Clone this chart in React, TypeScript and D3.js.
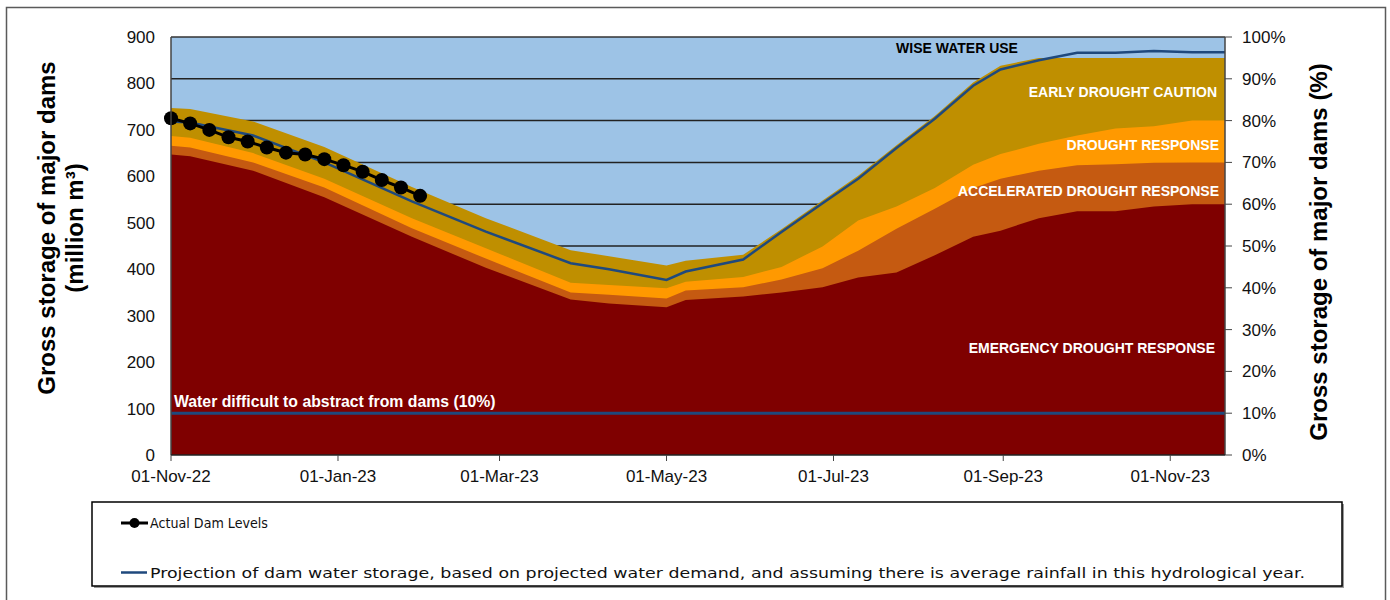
import React from 'react';
import * as d3 from 'd3';

// ---- data ----
const dates = [
  '2022-11-01', '2022-11-08', '2022-12-01', '2022-12-27', '2023-01-28', '2023-02-24',
  '2023-03-27', '2023-04-10', '2023-05-01', '2023-05-08', '2023-05-29', '2023-06-12',
  '2023-06-27', '2023-07-10', '2023-07-24', '2023-08-07', '2023-08-21', '2023-08-31',
  '2023-09-14', '2023-09-28', '2023-10-12', '2023-10-26', '2023-11-09', '2023-11-21',
];
const emergencyTop = [647, 643, 612, 555, 470, 403, 335, 326, 318, 334, 341, 350, 361, 382, 393, 430, 470, 483, 510, 525, 525, 535, 540, 540];
const acceleratedTop = [666, 662, 630, 576, 488, 423, 350, 345, 337, 354, 361, 378, 402, 440, 487, 530, 575, 595, 612, 624, 626, 629, 630, 630];
const droughtResponseTop = [687, 683, 650, 595, 510, 445, 371, 366, 359, 373, 383, 405, 449, 505, 535, 575, 625, 648, 670, 688, 703, 708, 720, 720];
const earlyCautionTop = [747, 745, 718, 663, 577, 510, 441, 428, 408, 418, 431, 486, 548, 601, 667, 730, 802, 838, 855, 855, 855, 855, 855, 855];
const projection = [718, 716, 688, 630, 546, 481, 413, 400, 377, 395, 421, 480, 542, 595, 661, 724, 795, 830, 850, 866, 866, 870, 867, 867];

const actualDates = [
  '2022-11-01', '2022-11-08', '2022-11-15', '2022-11-22', '2022-11-29', '2022-12-06', '2022-12-13',
  '2022-12-20', '2022-12-27', '2023-01-03', '2023-01-10', '2023-01-17', '2023-01-24', '2023-01-31',
];
const actualLevels = [725, 714, 700, 684, 675, 662, 651, 647, 637, 624, 610, 592, 576, 558];

const leftTicks = [0, 100, 200, 300, 400, 500, 600, 700, 800, 900];
const rightTicks = [0, 10, 20, 30, 40, 50, 60, 70, 80, 90, 100];
const xTickDates = ['2022-11-01', '2023-01-01', '2023-03-01', '2023-05-01', '2023-07-01', '2023-09-01', '2023-11-01'];
const xTickLabels = ['01-Nov-22', '01-Jan-23', '01-Mar-23', '01-May-23', '01-Jul-23', '01-Sep-23', '01-Nov-23'];
const abstractLimitPct = 10;

const bandNames = ['WISE WATER USE', 'EARLY DROUGHT CAUTION', 'DROUGHT RESPONSE', 'ACCELERATED DROUGHT RESPONSE', 'EMERGENCY DROUGHT RESPONSE'];
const bandColors = ['#9DC3E6', '#BF8F00', '#FF9900', '#C55A11', '#7F0000'];

const legendLabels = [
  'Actual Dam Levels',
  'Projection of dam water storage, based on projected water demand, and assuming there is average rainfall in this hydrological year.',
];

const parse = (s: string) => new Date(s + 'T00:00:00Z');

export default function App() {
  const W = 1390, H = 600;
  const L = 171, R = 1225, T = 37, B = 455;
  const x = d3.scaleUtc().domain([parse('2022-11-01'), parse('2023-11-21')]).range([L, R]);
  const y = d3.scaleLinear().domain([0, 900]).range([B, T]);
  const yPct = d3.scaleLinear().domain([0, 100]).range([B, T]);

  const pts = dates.map(parse);
  const area = (vals: number[]) =>
    d3.area<number>()
      .x((_, i) => x(pts[i]))
      .y0(y(0))
      .y1((d) => y(d))(vals) || '';
  const line = d3.line<number>().x((_, i) => x(pts[i])).y((d) => y(d));
  const actualPts = actualDates.map(parse);
  const actualLine = d3.line<number>().x((_, i) => x(actualPts[i])).y((d) => y(d));

  const tickFont = { fontFamily: 'Liberation Sans, Arial, sans-serif', fontSize: 17, fill: '#111' };
  const bandFont = { fontFamily: 'Liberation Sans, Arial, sans-serif', fontSize: 14, fontWeight: 700 as const };
  const titleFont = { fontFamily: 'Liberation Sans, Arial, sans-serif', fontSize: 24, fontWeight: 700 as const, fill: '#000' };
  const legendFont = { fontFamily: 'DejaVu Sans, sans-serif', fontSize: 14, fill: '#111' };

  return (
    <svg width={W} height={H} style={{ position: 'absolute', left: 0, top: 0, background: '#fff' }}>
      {/* outer frame */}
      <rect x={6.5} y={7.5} width={1379} height={640} fill="#fff" stroke="#5a5a5a" strokeWidth={1.5} />

      {/* plot background (wise water use) */}
      <rect x={L} y={T} width={R - L} height={B - T} fill={bandColors[0]} />
      {/* gridlines (secondary % axis) */}
      {rightTicks.filter((t) => t > 0 && t < 100).map((t) => (
        <line key={t} x1={L} x2={R} y1={yPct(t)} y2={yPct(t)} stroke="#222" strokeWidth={1.5} />
      ))}
      {/* bands */}
      <path d={area(earlyCautionTop)} fill={bandColors[1]} />
      <path d={area(droughtResponseTop)} fill={bandColors[2]} />
      <path d={area(acceleratedTop)} fill={bandColors[3]} />
      <path d={area(emergencyTop)} fill={bandColors[4]} />

      {/* 10% line */}
      <line x1={L} x2={R} y1={yPct(abstractLimitPct)} y2={yPct(abstractLimitPct)} stroke="#1F497D" strokeWidth={3} />
      <text x={174} y={407} fill="#fff" {...bandFont} fontSize={15.8}>Water difficult to abstract from dams (10%)</text>

      {/* projection */}
      <path d={line(projection) || ''} fill="none" stroke="#1F497D" strokeWidth={2.5} />

      {/* actual */}
      <path d={actualLine(actualLevels) || ''} fill="none" stroke="#000" strokeWidth={3} />
      {actualLevels.map((v, i) => (
        <circle key={i} cx={x(actualPts[i])} cy={y(v)} r={7} fill="#000" />
      ))}

      {/* band labels */}
      <text x={957} y={53} textAnchor="middle" fill="#000" {...bandFont}>{bandNames[0]}</text>
      <text x={1217} y={97} textAnchor="end" fill="#fff" {...bandFont}>{bandNames[1]}</text>
      <text x={1219} y={150} textAnchor="end" fill="#fff" {...bandFont}>{bandNames[2]}</text>
      <text x={1219} y={196} textAnchor="end" fill="#fff" {...bandFont}>{bandNames[3]}</text>
      <text x={1215} y={353} textAnchor="end" fill="#fff" {...bandFont}>{bandNames[4]}</text>

      {/* plot frame / axes */}
      <line x1={L} x2={R} y1={T} y2={T} stroke="#333" strokeWidth={1.5} />
      <line x1={L} x2={L} y1={T} y2={B} stroke="#444" strokeWidth={1.5} />
      <line x1={R} x2={R} y1={T} y2={B} stroke="#444" strokeWidth={1.5} />
      <line x1={L} x2={R} y1={B} y2={B} stroke="#222" strokeWidth={1.5} />

      {/* left ticks */}
      {leftTicks.map((t) => (
        <text key={t} x={155} y={y(t) + 6} textAnchor="end" {...tickFont}>{t}</text>
      ))}
      {/* right ticks */}
      {rightTicks.map((t) => (
        <g key={t}>
          <line x1={R} x2={R + 7} y1={yPct(t)} y2={yPct(t)} stroke="#444" strokeWidth={1} />
          <text x={1242} y={yPct(t) + 6} {...tickFont}>{t}%</text>
        </g>
      ))}
      {/* x ticks */}
      {xTickDates.map((d, i) => {
        const xx = x(parse(d));
        return (
          <g key={d}>
            <line x1={xx} x2={xx} y1={B} y2={B + 6} stroke="#444" strokeWidth={1} />
            <text x={xx} y={482} textAnchor="middle" {...tickFont}>{xTickLabels[i]}</text>
          </g>
        );
      })}

      {/* axis titles */}
      <text transform="translate(55,228) rotate(-90)" textAnchor="middle" {...titleFont}>Gross storage of major dams</text>
      <text transform="translate(83,228) rotate(-90)" textAnchor="middle" {...titleFont}>(million m³)</text>
      <text transform="translate(1327,252) rotate(-90)" textAnchor="middle" {...titleFont}>Gross storage of major dams (%)</text>

      {/* legend */}
      <rect x={94} y={504} width={1250} height={84} fill="#9a9a9a" />
      <rect x={92} y={502} width={1250} height={84} fill="#fff" stroke="#000" strokeWidth={1.5} />
      <line x1={121} x2={148} y1={523} y2={523} stroke="#000" strokeWidth={3} />
      <circle cx={134.5} cy={523} r={5} fill="#000" />
      <text x={150} y={528} textLength={118} lengthAdjust="spacingAndGlyphs" {...legendFont}>{legendLabels[0]}</text>
      <line x1={121} x2={147} y1={572.5} y2={572.5} stroke="#1F497D" strokeWidth={2.5} />
      <text x={150} y={577.5} textLength={1155} lengthAdjust="spacingAndGlyphs" {...legendFont}>{legendLabels[1]}</text>
    </svg>
  );
}
